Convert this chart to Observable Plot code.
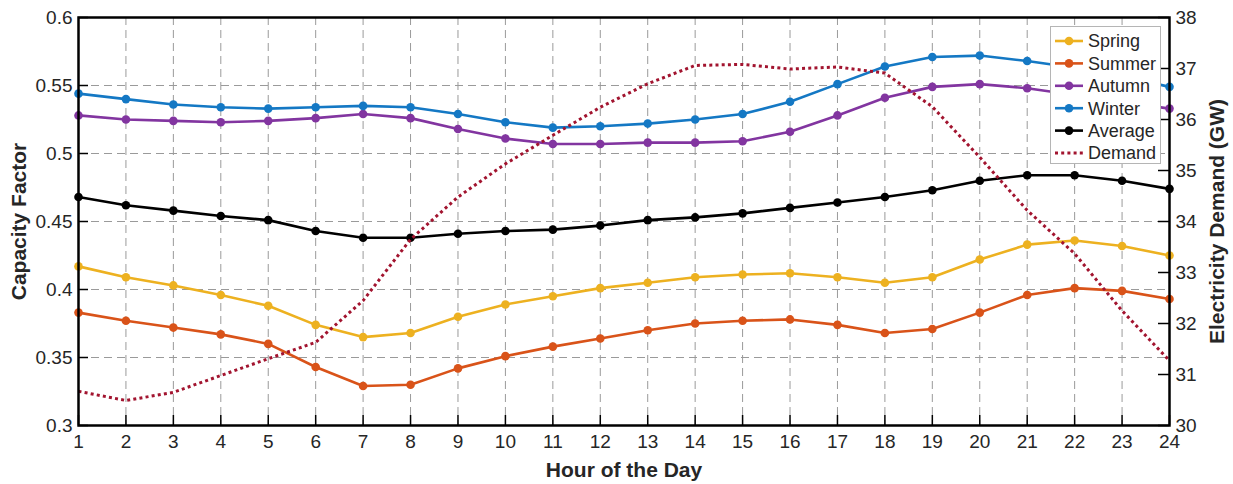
<!DOCTYPE html>
<html><head><meta charset="utf-8">
<script src="https://cdn.jsdelivr.net/npm/d3@7"></script>
<script src="https://cdn.jsdelivr.net/npm/@observablehq/plot@0.6"></script>
<style>body{margin:0;background:#fff;} #chart svg{display:block;}</style>
</head><body><div id="chart"></div>
<script>
const hours = [1,2,3,4,5,6,7,8,9,10,11,12,13,14,15,16,17,18,19,20,21,22,23,24];
const spring  = [0.417,0.409,0.403,0.396,0.388,0.374,0.365,0.368,0.380,0.389,0.395,0.401,0.405,0.409,0.411,0.412,0.409,0.405,0.409,0.422,0.433,0.436,0.432,0.425];
const summer  = [0.383,0.377,0.372,0.367,0.360,0.343,0.329,0.330,0.342,0.351,0.358,0.364,0.370,0.375,0.377,0.378,0.374,0.368,0.371,0.383,0.396,0.401,0.399,0.393];
const autumn  = [0.528,0.525,0.524,0.523,0.524,0.526,0.529,0.526,0.518,0.511,0.507,0.507,0.508,0.508,0.509,0.516,0.528,0.541,0.549,0.551,0.548,0.543,0.538,0.533];
const winter  = [0.544,0.540,0.536,0.534,0.533,0.534,0.535,0.534,0.529,0.523,0.519,0.520,0.522,0.525,0.529,0.538,0.551,0.564,0.571,0.572,0.568,0.563,0.557,0.549];
const average = [0.468,0.462,0.458,0.454,0.451,0.443,0.438,0.438,0.441,0.443,0.444,0.447,0.451,0.453,0.456,0.460,0.464,0.468,0.473,0.480,0.484,0.484,0.480,0.474];
const demand  = [30.67,30.49,30.65,30.98,31.31,31.63,32.45,33.65,34.48,35.13,35.69,36.24,36.70,37.06,37.08,36.99,37.03,36.91,36.25,35.26,34.22,33.37,32.25,31.27];
const seriesNames = ["Spring","Summer","Autumn","Winter","Average"];
const seriesColors = ["#EDB120","#D95319","#8235A0","#1478C4","#000000"];
const demandName = "Demand";
const demandColor = "#A2142F";
const cfTicks = [0.3,0.35,0.4,0.45,0.5,0.55,0.6];
const demandTicks = [30,31,32,33,34,35,36,37,38];
const xLabel = "Hour of the Day";
const yLabel = "Capacity Factor";
const y2Label = "Electricity Demand (GW)";

// map right-axis (GW) values onto the left (capacity factor) scale
const dMin = 30, dMax = 38, cMin = 0.3, cMax = 0.6;
const toCF = d => cMin + (d - dMin) * (cMax - cMin) / (dMax - dMin);
const fromCF = c => dMin + (c - cMin) * (dMax - dMin) / (cMax - cMin);

const seriesValues = [spring, summer, autumn, winter, average];
const rows = seriesNames.flatMap((name, i) => hours.map((h, j) => ({name, hour: h, value: seriesValues[i][j]})));
const demandRows = hours.map((h, j) => ({hour: h, value: toCF(demand[j])}));
const demandTickPos = demandTicks.map(toCF);

const W = 1233, H = 484, mL = 78, mR = 64, mT = 17, mB = 59;
const plotW = W - mL - mR, plotH = H - mT - mB;
const gridStyle = {stroke: "#9a9a9a", strokeOpacity: 1, strokeWidth: 1, strokeDasharray: "8,5"};
const textColor = "#262626";
const dotDash = "3,3.2";
const labelStyle = {text: d => d, fontSize: 21, fontWeight: "bold", fill: textColor, textAnchor: "middle", lineAnchor: "middle"};

const seriesMarks = seriesNames.flatMap((name, i) => {
  const data = rows.filter(r => r.name === name);
  return [
    Plot.line(data, {x: "hour", y: "value", stroke: seriesColors[i], strokeWidth: 2.6}),
    Plot.dot(data, {x: "hour", y: "value", fill: seriesColors[i], r: 4.3})
  ];
});

const chart = Plot.plot({
  width: W, height: H,
  marginLeft: mL, marginRight: mR, marginTop: mT, marginBottom: mB,
  style: {fontFamily: "'Liberation Sans', Arial, Helvetica, sans-serif", fontSize: "19px", color: textColor, background: "#fff"},
  x: {domain: [1, 24]},
  y: {domain: [cMin, cMax]},
  marks: [
    Plot.gridX(hours, gridStyle),
    Plot.gridY(cfTicks, gridStyle),
    ...seriesMarks,
    Plot.line(demandRows, {x: "hour", y: "value", stroke: demandColor, strokeWidth: 3, strokeDasharray: dotDash, strokeLinecap: "butt", strokeLinejoin: "miter"}),
    Plot.ruleX(hours, {x: d => d, insetTop: plotH - 10, stroke: "#000", strokeWidth: 1.5}),
    Plot.ruleY(cfTicks, {y: d => d, insetRight: plotW - 10, stroke: "#000", strokeWidth: 1.5}),
    Plot.ruleY(demandTickPos, {y: d => d, insetLeft: plotW - 11, stroke: "#000", strokeWidth: 1.5}),
    Plot.frame({stroke: "#000", strokeWidth: 2.5}),
    Plot.axisX(hours, {tickSize: 0, tickPadding: 9, label: null, tickFormat: d => String(d), fill: textColor}),
    Plot.axisY(cfTicks, {anchor: "left", tickSize: 0, tickPadding: 6, label: null, tickFormat: d => String(d), fill: textColor}),
    Plot.axisY(demandTickPos, {anchor: "right", tickSize: 0, tickPadding: 6, label: null, tickFormat: d => String(Math.round(fromCF(d))), fill: textColor}),
    Plot.text([yLabel], {...labelStyle, frameAnchor: "left", dx: -59, rotate: -90}),
    Plot.text([y2Label], {...labelStyle, frameAnchor: "right", dx: 48, rotate: -90}),
    Plot.text([xLabel], {...labelStyle, frameAnchor: "bottom", dy: 45})
  ]
});

// legend inside the plot (top-right)
const svg = d3.select(chart);
const legend = svg.append("g")
  .attr("font-family", "'Liberation Sans', Arial, Helvetica, sans-serif")
  .attr("font-size", 18)
  .attr("text-anchor", "start");
legend.append("rect").attr("x", 1050.5).attr("y", 26.5).attr("width", 110).attr("height", 137)
  .attr("fill", "#fff").attr("stroke", "#b5b5b5").attr("stroke-width", 1);
const items = seriesNames.map((n, i) => ({name: n, color: seriesColors[i], dotted: false}))
  .concat([{name: demandName, color: demandColor, dotted: true}]);
items.forEach((it, i) => {
  const y = 41 + i * 22.4;
  legend.append("line").attr("x1", 1055).attr("x2", 1083).attr("y1", y).attr("y2", y)
    .attr("stroke", it.color).attr("stroke-width", it.dotted ? 3 : 2.6)
    .attr("stroke-linecap", "butt")
    .attr("stroke-dasharray", it.dotted ? dotDash : null);
  if (!it.dotted) legend.append("circle").attr("cx", 1069).attr("cy", y).attr("r", 4.3).attr("fill", it.color);
  legend.append("text").attr("x", 1088).attr("y", y).attr("dy", "0.35em").attr("text-anchor", "start").attr("fill", textColor).text(it.name);
});

document.getElementById("chart").appendChild(chart);
</script>
</body></html>
